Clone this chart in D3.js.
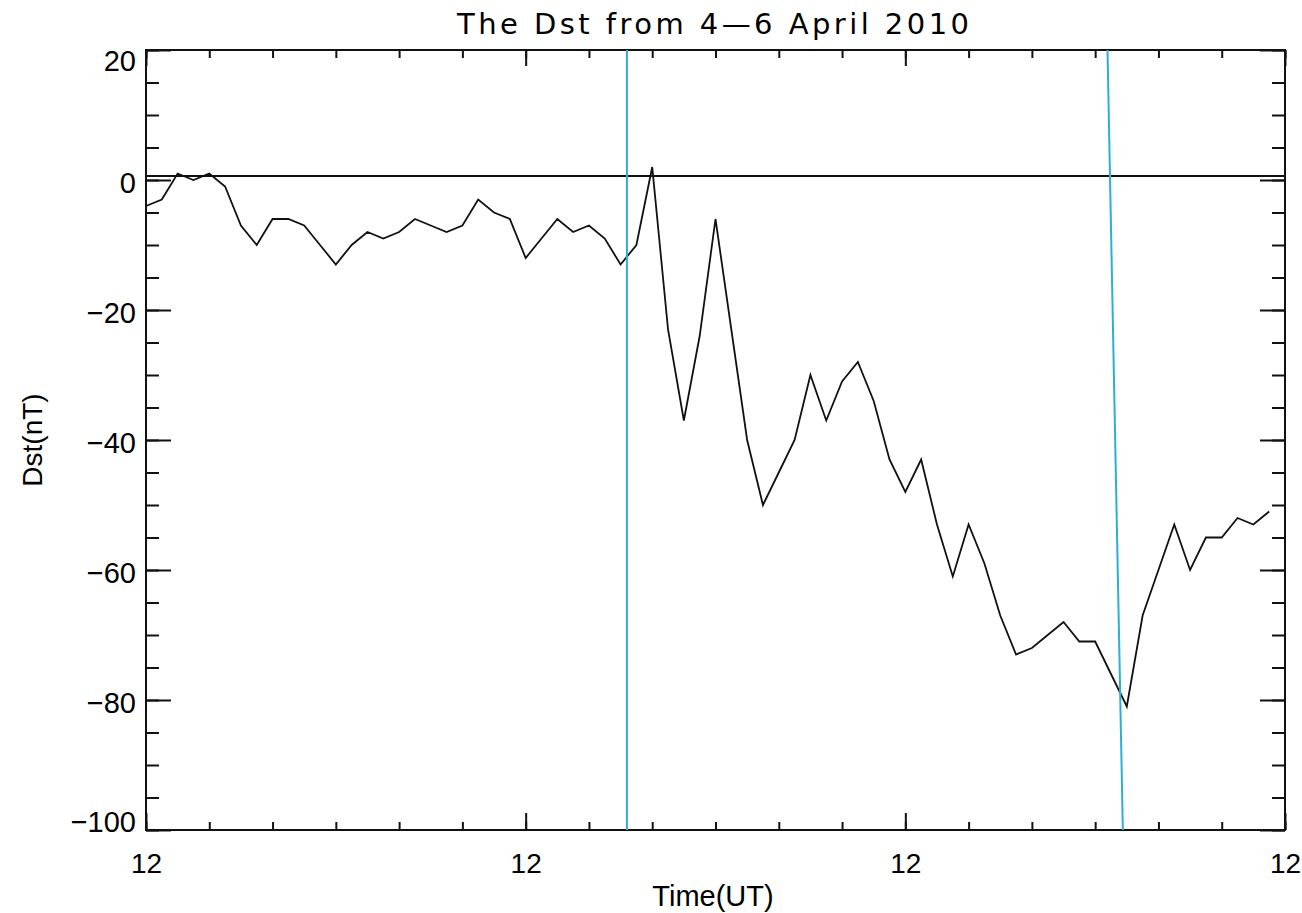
<!DOCTYPE html>
<html>
<head>
<meta charset="utf-8">
<script src="https://cdn.jsdelivr.net/npm/d3@7"></script>
<style>
  html, body { margin: 0; padding: 0; background: #fff; }
  svg { display: block; }
  text { font-family: "Liberation Sans", Arial, sans-serif; fill: #000; }
  text.chart-title { font-family: "DejaVu Sans", "Liberation Sans", sans-serif; }
</style>
</head>
<body>
<svg id="chart" width="1302" height="913"></svg>
<script>
// Hourly Dst index (nT), starting at 12 UT
const hourOffsets = d3.range(72);
const dstValues = [
  -4, -3, 1, 0, 1, -1, -7, -10, -6, -6, -7, -10, -13, -10, -8, -9,
  -8, -6, -7, -8, -7, -3, -5, -6, -12, -9, -6, -8, -7, -9, -13, -10,
  2, -23, -37, -24, -6, -23, -40, -50, -45, -40, -30, -37, -31, -28, -34, -43,
  -48, -43, -53, -61, -53, -59, -67, -73, -72, -70, -68, -71, -71, -76,
  -81, -67, -60, -53, -60, -55, -55, -52, -53, -51
];

// Axis ticks
const xMajorHours = [0, 24, 48, 72];
const xMajorLabels = ["12", "12", "12", "12"];
const xMinorHours = d3.range(0, 73, 4);
const yMajorValues = [20, 0, -20, -40, -60, -80, -100];
const yMinorValues = d3.range(-100, 21, 5);

// Reference level and event markers (hours from start; top / bottom ends)
const quietLevel = 0.6;
const markerTop = [30.4, 60.78];
const markerBottom = [30.4, 61.75];

const titleText = "The Dst from 4\u20146 April 2010";
const xTitle = "Time(UT)";
const yTitle = "Dst(nT)";

const svg = d3.select("#chart");
const plotLeft = 146, plotRight = 1285, plotTop = 50, plotBottom = 830;

const x = d3.scaleLinear().domain([0, 72]).range([plotLeft, plotRight]);
const y = d3.scaleLinear().domain([-100, 20]).range([plotBottom, plotTop]);

const ink = "#111";

// Frame
svg.append("rect")
  .attr("x", plotLeft).attr("y", plotTop)
  .attr("width", plotRight - plotLeft).attr("height", plotBottom - plotTop)
  .attr("fill", "none").attr("stroke", ink).attr("stroke-width", 2);

function styleAxis(g) {
  g.select(".domain").remove();
  g.selectAll(".tick line").attr("stroke", ink).attr("stroke-width", 2);
}

// Bottom axis: minor + major ticks pointing inward
svg.append("g").attr("transform", `translate(0,${plotBottom})`)
  .call(d3.axisBottom(x).tickValues(xMinorHours).tickSize(-8).tickFormat(""))
  .call(styleAxis);
const bx = svg.append("g").attr("transform", `translate(0,${plotBottom})`)
  .call(d3.axisBottom(x).tickValues(xMajorHours).tickSize(-17).tickPadding(23)
    .tickFormat((d, i) => xMajorLabels[i]))
  .call(styleAxis);
bx.selectAll(".tick text").attr("font-size", 28).attr("fill", "#000");

// Top axis: ticks only
svg.append("g").attr("transform", `translate(0,${plotTop})`)
  .call(d3.axisTop(x).tickValues(xMinorHours).tickSize(-8).tickFormat(""))
  .call(styleAxis);
svg.append("g").attr("transform", `translate(0,${plotTop})`)
  .call(d3.axisTop(x).tickValues(xMajorHours).tickSize(-16).tickFormat(""))
  .call(styleAxis);

// Left axis
svg.append("g").attr("transform", `translate(${plotLeft},0)`)
  .call(d3.axisLeft(y).tickValues(yMinorValues).tickSize(-13).tickFormat(""))
  .call(styleAxis);
const ly = svg.append("g").attr("transform", `translate(${plotLeft},0)`)
  .call(d3.axisLeft(y).tickValues(yMajorValues).tickSize(-25).tickPadding(10))
  .call(styleAxis);
ly.selectAll(".tick text")
  .attr("font-size", 29).attr("fill", "#000")
  .attr("dy", d => d === 20 ? "0.72em" : d === -100 ? "0.06em" : "0.43em");

// Right axis
svg.append("g").attr("transform", `translate(${plotRight},0)`)
  .call(d3.axisRight(y).tickValues(yMinorValues).tickSize(-13).tickFormat(""))
  .call(styleAxis);
svg.append("g").attr("transform", `translate(${plotRight},0)`)
  .call(d3.axisRight(y).tickValues(yMajorValues).tickSize(-25).tickFormat(""))
  .call(styleAxis);

// Reference level
svg.append("line")
  .attr("x1", x(0)).attr("x2", x(72))
  .attr("y1", y(quietLevel)).attr("y2", y(quietLevel))
  .attr("stroke", ink).attr("stroke-width", 2);

// Dst curve
const line = d3.line()
  .x((d, i) => x(hourOffsets[i]))
  .y(d => y(d));
svg.append("path")
  .datum(dstValues)
  .attr("d", line)
  .attr("fill", "none")
  .attr("stroke", ink)
  .attr("stroke-width", 1.8)
  .attr("stroke-linejoin", "miter");

// Event markers
svg.selectAll(".marker")
  .data(markerTop)
  .join("line")
  .attr("class", "marker")
  .attr("x1", d => x(d)).attr("y1", y(20))
  .attr("x2", (d, i) => x(markerBottom[i])).attr("y2", y(-100))
  .attr("stroke", "#2eafd2").attr("stroke-width", 2);

// Titles
svg.append("text")
  .attr("class", "chart-title")
  .attr("x", 713).attr("y", 34)
  .attr("text-anchor", "middle").attr("font-size", 29)
  .attr("textLength", 512).attr("lengthAdjust", "spacing")
  .text(titleText);

svg.append("text")
  .attr("x", 713).attr("y", 906)
  .attr("text-anchor", "middle").attr("font-size", 29)
  .text(xTitle);

svg.append("text")
  .attr("transform", `translate(42,${(plotTop + plotBottom) / 2}) rotate(-90)`)
  .attr("text-anchor", "middle").attr("font-size", 28)
  .text(yTitle);
</script>
</body>
</html>
